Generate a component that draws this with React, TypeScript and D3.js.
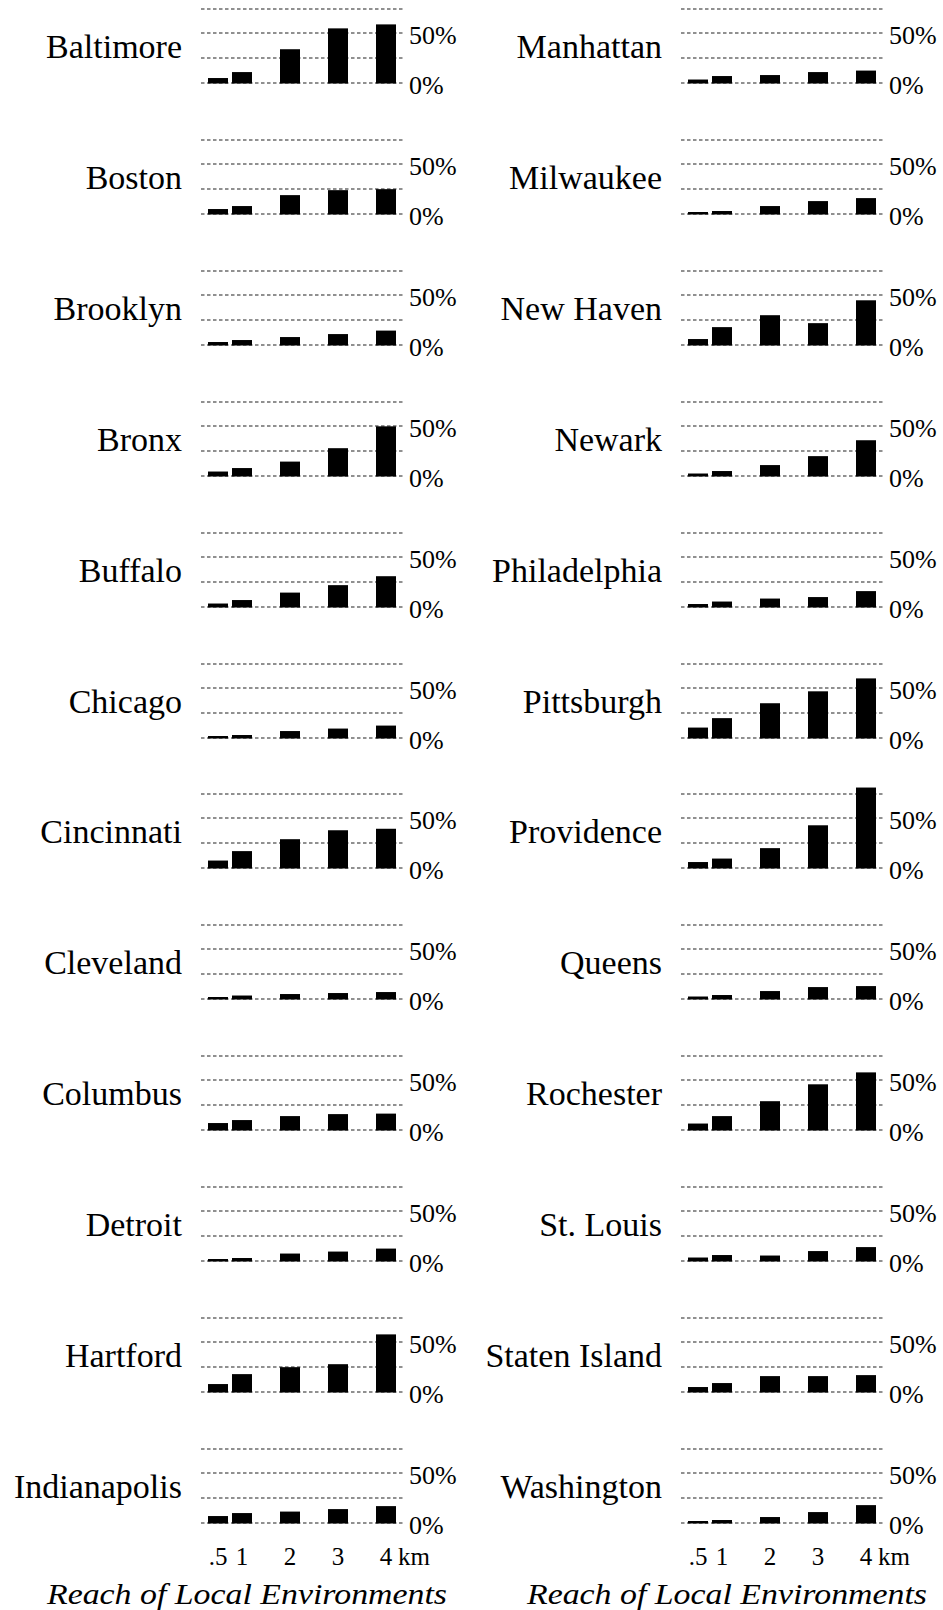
import React from 'react';
import * as d3 from 'd3';

// Reach of local environments (km) — bar categories
const reachKm = [0.5, 1, 2, 3, 4];
const axisTickLabels = ['.5', '1', '2', '3', '4'];
const gridTicks = [0, 25, 50, 75];
const pctLabels = [0, 50];

const leftCities = [
  'Baltimore', 'Boston', 'Brooklyn', 'Bronx', 'Buffalo', 'Chicago',
  'Cincinnati', 'Cleveland', 'Columbus', 'Detroit', 'Hartford', 'Indianapolis',
];
const leftValues = [
  [5, 11, 34, 55, 59],
  [5, 8, 19, 24, 25],
  [3, 5, 8, 11, 14.5],
  [4.5, 8, 14.5, 28, 50],
  [3.5, 7, 14.5, 22, 31],
  [2, 3, 7, 9.5, 12.5],
  [7.5, 17, 29, 38, 39.5],
  [2, 3.5, 5, 6, 7],
  [7, 10, 14, 16, 16.5],
  [2, 3, 7.5, 9.5, 12.5],
  [8, 18, 25, 28, 58],
  [7, 10, 11.5, 14, 17],
];

const rightCities = [
  'Manhattan', 'Milwaukee', 'New Haven', 'Newark', 'Philadelphia', 'Pittsburgh',
  'Providence', 'Queens', 'Rochester', 'St. Louis', 'Staten Island', 'Washington',
];
const rightValues = [
  [3.5, 7, 8, 11, 12.5],
  [2, 3, 8, 13, 16],
  [6, 18, 30, 22, 45],
  [2.5, 5, 11, 20, 36],
  [3, 5.5, 8.5, 10, 16],
  [10.5, 20, 35, 47, 60],
  [6, 9.5, 20, 43, 81],
  [2.5, 4, 8, 12, 13],
  [6.5, 14, 29, 46, 58],
  [3.5, 6, 5.5, 10, 14],
  [5, 9, 16, 16, 17],
  [2, 3, 6, 11, 18],
];

const axisTitle = 'Reach of Local Environments';

const FONT = '"Liberation Serif", "Times New Roman", serif';

export default function App() {
  const W = 943;
  const H = 1610;

  const columns = [
    { cities: leftCities, values: leftValues },
    { cities: rightCities, values: rightValues },
  ];

  const colX = d3.scaleLinear().domain([0, 1]).range([0, 480]);
  const rowY = d3.scaleLinear().domain([0, 11]).range([83, 1522.9]);
  const x = d3.scaleLinear().domain([0.5, 4]).range([218, 386]);
  const y = d3.scaleLinear().domain([0, 75]).range([0, -74.5]);
  const gridX0 = 201;
  const gridX1 = 402.5;
  const barW = 20;
  const nRows = leftCities.length;

  return (
    <svg
      width={W}
      height={H}
      viewBox={`0 0 ${W} ${H}`}
      style={{ position: 'absolute', left: 0, top: 0, background: '#fff' }}
      fontFamily={FONT}
    >
      <rect x={0} y={0} width={W} height={H} fill="#fff" />
      {columns.map((col, ci) => (
        <g key={ci} transform={`translate(${colX(ci)},0)`}>
          {col.cities.map((city, ri) => {
            const y0 = Math.round(rowY(ri));
            return (
              <g key={city} transform={`translate(0,${y0})`}>
                {gridTicks.map((t) => {
                  const gy = Math.round(y(t));
                  return (
                    <line
                      key={t}
                      x1={gridX0}
                      x2={gridX1}
                      y1={gy}
                      y2={gy}
                      stroke="#222"
                      strokeWidth={1.2}
                      strokeDasharray="3.5,2.5"
                    />
                  );
                })}
                {col.values[ri].map((v, k) => (
                  <rect
                    key={k}
                    x={x(reachKm[k]) - barW / 2}
                    y={y(v)}
                    width={barW}
                    height={-y(v) + 0.5}
                    fill="#000"
                  />
                ))}
                {pctLabels.map((t) => (
                  <text
                    key={t}
                    x={409}
                    y={y(t) + 11}
                    fontSize={26}
                    fill="#000"
                  >
                    {`${t}%`}
                  </text>
                ))}
                <text
                  x={182}
                  y={y(25)}
                  fontSize={34}
                  textAnchor="end"
                  fill="#000"
                >
                  {city}
                </text>
              </g>
            );
          })}
          <g transform={`translate(0,${Math.round(rowY(nRows - 1))})`}>
            {reachKm.map((r, k) => (
              <text
                key={r}
                x={x(r)}
                y={42}
                fontSize={25}
                textAnchor="middle"
                fill="#000"
              >
                {axisTickLabels[k]}
              </text>
            ))}
            <text x={x(4) + 12} y={42} fontSize={25} fill="#000">
              km
            </text>
            <text
              x={247}
              y={81}
              fontSize={30}
              fontStyle="italic"
              textAnchor="middle"
              textLength={400}
              lengthAdjust="spacingAndGlyphs"
              fill="#000"
            >
              {axisTitle}
            </text>
          </g>
        </g>
      ))}
    </svg>
  );
}
